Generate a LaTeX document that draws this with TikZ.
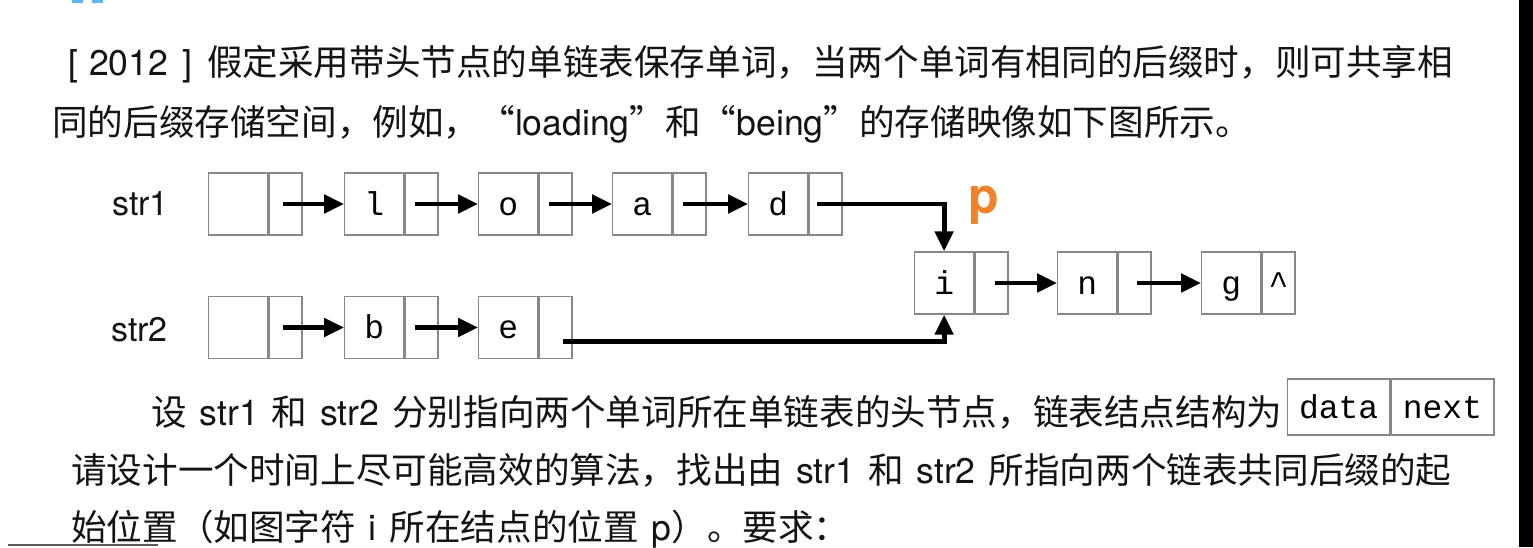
\documentclass[tikz,border=0pt]{standalone}
\usepackage{fontspec}
\setmainfont{TeX Gyre Heros}[WordSpace=1.3]
\newfontfamily\cjk{Noto Sans CJK SC}
\newfontfamily\monof{Liberation Mono}
\usetikzlibrary{arrows.meta,calc}
\definecolor{boxgray}{RGB}{135,135,135}
\definecolor{porange}{RGB}{240,130,40}
\definecolor{topblue}{RGB}{100,180,240}
\definecolor{txtblack}{RGB}{20,20,20}
\begin{document}
\begin{tikzpicture}[x=1pt,y=-1pt,
  cell/.style={draw=boxgray, line width=1.3pt, minimum height=62pt, inner sep=0pt,
    font=\fontsize{33pt}{36pt}\monof, text height=22pt, text depth=0pt},
  dcell/.style={cell, minimum width=59pt},
  ncell/.style={cell, minimum width=33pt},
  fcell/.style={draw=boxgray, line width=1.3pt, minimum height=56pt, minimum width=102pt, inner sep=0pt,
    font=\fontsize{33pt}{36pt}\monof, text height=22pt, text depth=0pt},
  link/.style={line width=4.8pt, line join=miter, -{Triangle[length=20pt,width=18pt]}},
  txt/.style={anchor=base west, inner sep=0pt, text=txtblack, font=\fontsize{35.6pt}{40pt}\selectfont},
  lbl/.style={anchor=base west, inner sep=0pt, text=txtblack, font=\fontsize{34pt}{38pt}\selectfont},
]
\useasboundingbox (0,0) rectangle (1533,547);
\fill[white] (0,0) rectangle (1533,547);

% top artifacts
\fill[topblue] (72,0) rectangle (83,3);
\fill[topblue] (92,0) rectangle (103,3);
\fill[black] (1519,0) rectangle (1533,547);
\draw[line width=2pt, draw=black!65] (8,545) -- (158,545);

% text lines
\node[txt] (t1) at (68,75) {[\hspace{11pt}2012\hspace{14pt}]\hspace{15pt}{\cjk 假定采用带头节点的单链表保存单词，当两个单词有相同的后缀时，则可共享相}};
\node[txt] (t2) at (52,135) {{\cjk 同的后缀存储空间，例如，“}loading{\cjk ”和“}being{\cjk ”的存储映像如下图所示。}};

% labels
\node[lbl] (s1) at (112,215) {str1};
\node[lbl] (s2) at (111,341) {str2};

% row 1
\node[dcell,anchor=west] (h1d) at (208,204) {};
\node[ncell,anchor=west] (h1n) at (h1d.east) {};
\node[dcell,anchor=west] (ld) at (344,204) {l};
\node[ncell,anchor=west] (ln) at (ld.east) {};
\node[dcell,anchor=west] (od) at (478,204) {o};
\node[ncell,anchor=west] (on) at (od.east) {};
\node[dcell,anchor=west] (ad) at (612,204) {a};
\node[ncell,anchor=west] (an) at (ad.east) {};
\node[dcell,anchor=west] (dd) at (748,204) {d};
\node[ncell,anchor=west] (dn) at (dd.east) {};

% row 2
\node[dcell,anchor=west] (h2d) at (208,327.5) {};
\node[ncell,anchor=west] (h2n) at (h2d.east) {};
\node[dcell,anchor=west] (bd) at (344,327.5) {b};
\node[ncell,anchor=west] (bn) at (bd.east) {};
\node[dcell,anchor=west] (ed) at (478,327.5) {e};
\node[ncell,anchor=west] (en) at (ed.east) {};

% shared suffix
\node[dcell,anchor=west] (id) at (914,283) {i};
\node[ncell,anchor=west] (in) at (id.east) {};
\node[dcell,anchor=west] (nd) at (1057,283) {n};
\node[ncell,anchor=west] (nn) at (nd.east) {};
\node[dcell,anchor=west] (gd) at (1201,283) {g};
\node[ncell,anchor=west] (gn) at (gd.east) {\symbol{94}};

\node[anchor=base west, inner sep=0pt, text=porange, font=\fontsize{50pt}{50pt}\selectfont\bfseries] (pl) at (968,213) {p};

% links
\draw[link] ($(h1n.center)+(-2.5,0)$) -- (ld.west);
\draw[link] ($(ln.center)+(-6.5,0)$) -- (od.west);
\draw[link] ($(on.center)+(-6,0)$) -- (ad.west);
\draw[link] ($(an.center)+(-6,0)$) -- (dd.west);
\draw[link] ($(dn.center)+(-8,0)$) -| (id.north);
\draw[link] ($(h2n.center)+(-2.5,0)$) -- (bd.west);
\draw[link] ($(bn.center)+(-6.5,0)$) -- (ed.west);
\draw[link] ($(en.center)+(8,14)$) -| (id.south);
\draw[link] ($(in.center)+(3.5,0)$) -- (nd.west);
\draw[link] ($(nn.center)+(3,0)$) -- (gd.west);

% lower text
\node[txt] (t3) at (151,425) {{\cjk 设} str1 {\cjk 和} str2 {\cjk 分别指向两个单词所在单链表的头节点，链表结点结构为}};
\node[fcell,anchor=west] (fd) at (1287,407) {data};
\node[fcell,anchor=west, minimum width=103pt] (fn) at (fd.east) {next};
\node[txt] (t4) at (71,483) {{\cjk 请设计一个时间上尽可能高效的算法，找出由} str1 {\cjk 和} str2 {\cjk 所指向两个链表共同后缀的起}};
\node[txt] (t5) at (71,540) {{\cjk 始位置（如图字符} i {\cjk 所在结点的位置} p{\cjk ）。要求：}};
\end{tikzpicture}
\end{document}
